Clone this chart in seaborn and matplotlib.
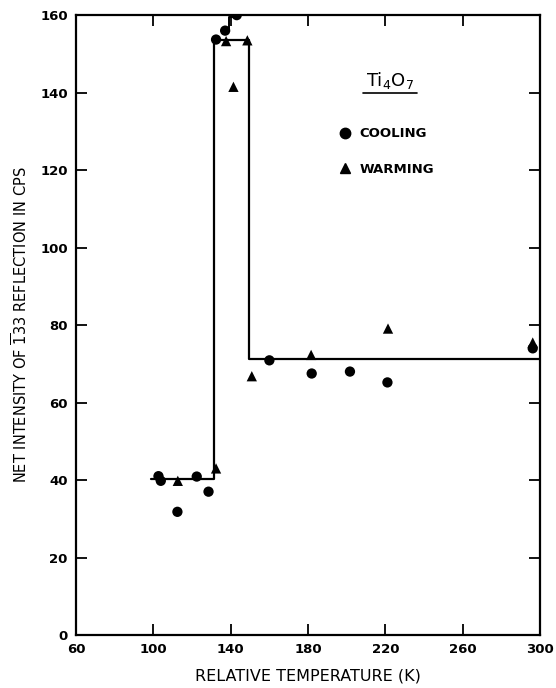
import numpy as np
import pandas as pd
import matplotlib
matplotlib.use("Agg")
import matplotlib.pyplot as plt
import seaborn as sns
from matplotlib.lines import Line2D

# data
cool_t = [102.6, 103.8, 112.4, 122.4, 128.5, 132.4, 137.1, 143.1, 160.0, 181.9, 201.7, 221.1, 296.3]
cool_i = [41.0, 39.8, 31.8, 40.9, 37.0, 153.7, 156.0, 160.0, 70.9, 67.5, 68.0, 65.2, 74.0]
warm_t = [112.6, 132.4, 137.6, 141.4, 148.6, 150.9, 181.6, 221.4, 296.3]
warm_i = [39.8, 43.0, 153.3, 141.5, 153.5, 66.8, 72.3, 79.1, 75.5]

# step line (fit)
step_t = [98.5, 131.5, 149.5, 300]
step_i = [40.2, 153.5, 71.2, 71.2]

df = pd.DataFrame({
    "T": cool_t + warm_t,
    "I": cool_i + warm_i,
    "mode": ["COOLING"] * len(cool_t) + ["WARMING"] * len(warm_t),
})

sns.set_style("ticks")
plt.rcParams['font.family'] = ['DejaVu Sans']
plt.rcParams['mathtext.fontset'] = 'dejavusans'
for k in ["text.color", "axes.edgecolor", "axes.labelcolor", "xtick.color", "ytick.color"]:
    plt.rcParams[k] = "black"

fig = plt.figure(figsize=(5.56, 6.88), dpi=100)
ax = fig.add_axes([0.137, 0.077, 0.834, 0.901])

ax.plot(step_t, step_i, drawstyle="steps-post", color="black", lw=1.6, zorder=2)
# little connector near the peak
ax.plot([139.2, 139.2, 142.0], [156.0, 159.6, 159.6], color="black", lw=1.4, zorder=2)

sns.scatterplot(data=df, x="T", y="I", style="mode", markers={"COOLING": "o", "WARMING": "^"},
                color="black", s=55, edgecolor="black", linewidth=0, legend=False, ax=ax, zorder=3)

ax.set_xlim(60, 300)
ax.set_ylim(0, 160)
ax.set_xticks(np.arange(60, 301, 40))
ax.set_yticks(np.arange(0, 161, 20))
ax.tick_params(direction="in", length=8, width=1.3, top=True, right=True,
               labelsize=9.5, pad=6)
for lab in ax.get_xticklabels() + ax.get_yticklabels():
    lab.set_fontweight("bold")
for sp in ax.spines.values():
    sp.set_linewidth(1.6)

ax.set_xlabel("RELATIVE TEMPERATURE (K)", fontsize=11.5, labelpad=9)
ax.set_ylabel(r"NET INTENSITY OF $\overline{1}$33 REFLECTION IN CPS", fontsize=10.5, labelpad=7)

# compound label and key
ax.text(222.4, 143.0, r"Ti$_4$O$_7$", fontsize=13, ha="center", va="center")
ax.plot([208.5, 236.4], [140.0, 140.0], color="black", lw=1.2)

handles = [Line2D([], [], ls="", marker="o", color="black", markersize=7.5),
           Line2D([], [], ls="", marker="^", color="black", markersize=7.5)]
ax.legend(handles, ["COOLING", "WARMING"], frameon=False, prop={"size": 9.5, "weight": "bold"},
          loc="upper left", bbox_to_anchor=(0.54, 0.838), handletextpad=0.6,
          labelspacing=1.7, handlelength=1.0)

fig.savefig("out.png", dpi=100)
